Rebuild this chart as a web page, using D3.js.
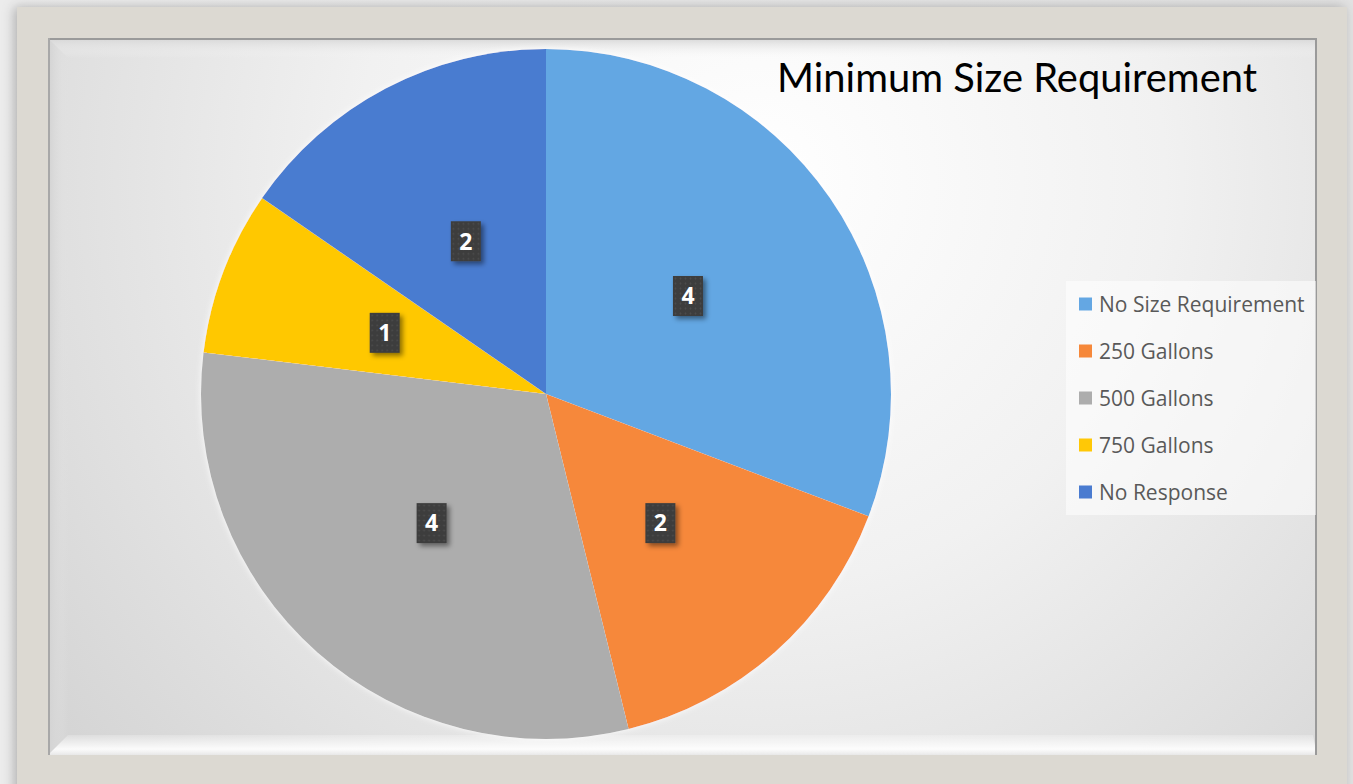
<!DOCTYPE html>
<html>
<head>
<meta charset="utf-8">
<script src="https://d3js.org/d3.v7.min.js"></script>
<style>
  html, body { margin: 0; padding: 0; background: #e4e4e4; overflow: hidden; }
  svg { display: block; }
</style>
</head>
<body>
<svg id="chart" width="1353" height="784"></svg>
<script>
// data
const categories = ["No Size Requirement", "250 Gallons", "500 Gallons", "750 Gallons", "No Response"];
const values = [4, 2, 4, 1, 2];
const colors = ["#64a7e3", "#f6883a", "#adadad", "#ffc806", "#4a7bd0"];
const title = "Minimum Size Requirement";

const svg = d3.select("#chart");
const defs = svg.append("defs");

// panel background gradient
let bg = defs.append("radialGradient").attr("id", "panelBg")
  .attr("gradientUnits", "userSpaceOnUse")
  .attr("cx", 760).attr("cy", 180).attr("r", 900);
bg.append("stop").attr("offset", "0").attr("stop-color", "#ffffff");
bg.append("stop").attr("offset", "0.45").attr("stop-color", "#f1f1f1");
bg.append("stop").attr("offset", "1").attr("stop-color", "#d4d4d4");

let outerBg = defs.append("linearGradient").attr("id", "outerBg")
  .attr("x1", 0).attr("y1", 0).attr("x2", 1).attr("y2", 0);
outerBg.append("stop").attr("offset", "0").attr("stop-color", "#ececec");
outerBg.append("stop").attr("offset", "1").attr("stop-color", "#e2e2e2");

let topBevel = defs.append("linearGradient").attr("id", "topBevel")
  .attr("x1", 0).attr("y1", 0).attr("x2", 0).attr("y2", 1);
topBevel.append("stop").attr("offset", "0").attr("stop-color", "#d6d6d6");
topBevel.append("stop").attr("offset", "1").attr("stop-color", "#f7f7f7").attr("stop-opacity", 0);

let leftBevel = defs.append("linearGradient").attr("id", "leftBevel")
  .attr("x1", 0).attr("y1", 0).attr("x2", 1).attr("y2", 0);
leftBevel.append("stop").attr("offset", "0").attr("stop-color", "#d2d2d2");
leftBevel.append("stop").attr("offset", "1").attr("stop-color", "#e4e4e4").attr("stop-opacity", 0);

let botBevel = defs.append("linearGradient").attr("id", "botBevel")
  .attr("x1", 0).attr("y1", 0).attr("x2", 0).attr("y2", 1);
botBevel.append("stop").attr("offset", "0").attr("stop-color", "#ffffff").attr("stop-opacity", 0.2);
botBevel.append("stop").attr("offset", "0.7").attr("stop-color", "#ffffff").attr("stop-opacity", 0.9);
botBevel.append("stop").attr("offset", "1").attr("stop-color", "#e8e8e8");

// shadow filters
let fs = defs.append("filter").attr("id", "frameShadow")
  .attr("x", "-5%").attr("y", "-5%").attr("width", "110%").attr("height", "110%");
fs.append("feDropShadow").attr("dx", -3).attr("dy", 0).attr("stdDeviation", 6)
  .attr("flood-color", "#000").attr("flood-opacity", 0.25);

let ls = defs.append("filter").attr("id", "labelShadow")
  .attr("x", "-50%").attr("y", "-50%").attr("width", "200%").attr("height", "200%");
ls.append("feDropShadow").attr("dx", 3).attr("dy", 3).attr("stdDeviation", 2.5)
  .attr("flood-color", "#000").attr("flood-opacity", 0.45);

let ps = defs.append("filter").attr("id", "pieGlow")
  .attr("x", "-10%").attr("y", "-10%").attr("width", "120%").attr("height", "120%");
ps.append("feDropShadow").attr("dx", 0).attr("dy", 0).attr("stdDeviation", 3)
  .attr("flood-color", "#ffffff").attr("flood-opacity", 0.9);

// dotted texture for the label boxes
let dots = defs.append("pattern").attr("id", "dots")
  .attr("patternUnits", "userSpaceOnUse").attr("width", 5).attr("height", 5);
dots.append("rect").attr("width", 5).attr("height", 5).attr("fill", "#3d3d3d");
dots.append("circle").attr("cx", 2.5).attr("cy", 2.5).attr("r", 1).attr("fill", "#4c4c4c");

// outer background and frame
svg.append("rect").attr("width", 1353).attr("height", 784).attr("fill", "url(#outerBg)");
svg.append("rect")
  .attr("x", 17).attr("y", 7).attr("width", 1330).attr("height", 800)
  .attr("fill", "#dcd9d2")
  .attr("filter", "url(#frameShadow)");

// inner panel
const px0 = 48, py0 = 38, px1 = 1317, py1 = 755, bev = 20;
svg.append("rect")
  .attr("x", px0).attr("y", py0).attr("width", px1 - px0).attr("height", py1 - py0)
  .attr("fill", "url(#panelBg)");

// bevels
svg.append("polygon")
  .attr("points", [[px0, py0], [px1, py0], [px1 - 4, py0 + bev], [px0 + bev, py0 + bev]].join(" "))
  .attr("fill", "url(#topBevel)");
svg.append("polygon")
  .attr("points", [[px0, py0], [px0 + bev, py0 + bev], [px0 + bev, py1 - bev], [px0, py1]].join(" "))
  .attr("fill", "url(#leftBevel)");
svg.append("polygon")
  .attr("points", [[px0, py1], [px0 + bev, py1 - bev], [px1 - 4, py1 - bev], [px1, py1]].join(" "))
  .attr("fill", "url(#botBevel)");
svg.append("line").attr("x1", px0).attr("y1", py0 + 1).attr("x2", px1).attr("y2", py0 + 1)
  .attr("stroke", "#9a9a9a").attr("stroke-width", 2);
svg.append("line").attr("x1", px0 + 1).attr("y1", py0).attr("x2", px0 + 1).attr("y2", py1)
  .attr("stroke", "#a8a8a8").attr("stroke-width", 2);
svg.append("line").attr("x1", px1 - 1).attr("y1", py0).attr("x2", px1 - 1).attr("y2", py1)
  .attr("stroke", "#9a9a9a").attr("stroke-width", 2);

// pie
const cx = 546, cy = 394, R = 345;
const pie = d3.pie().sort(null).value(d => d);
const arcs = pie(values);
const arc = d3.arc().innerRadius(0).outerRadius(R);
const labelArc = d3.arc().innerRadius(R * 0.5).outerRadius(R * 0.5);

const g = svg.append("g").attr("transform", `translate(${cx},${cy})`);
g.append("g").attr("filter", "url(#pieGlow)")
  .selectAll("path")
  .data(arcs)
  .join("path")
  .attr("d", arc)
  .attr("fill", (d, i) => colors[i]);

// data labels
const lab = g.selectAll("g.lab")
  .data(arcs)
  .join("g")
  .attr("class", "lab")
  .attr("transform", d => `translate(${labelArc.centroid(d)})`);
lab.append("rect")
  .attr("x", -15).attr("y", -20).attr("width", 30).attr("height", 40)
  .attr("fill", "url(#dots)")
  .attr("filter", "url(#labelShadow)");
lab.append("text")
  .attr("text-anchor", "middle")
  .attr("dy", "0.36em")
  .attr("font-family", "'Open Sans', 'DejaVu Sans', sans-serif")
  .attr("font-weight", "bold")
  .attr("font-size", 23)
  .attr("fill", "#ffffff")
  .text(d => d.data);

// title
svg.append("text")
  .attr("x", 777).attr("y", 92)
  .attr("font-family", "Lato, 'DejaVu Sans', sans-serif")
  .attr("font-size", 41)
  .attr("fill", "#000")
  .attr("textLength", 480)
  .attr("lengthAdjust", "spacingAndGlyphs")
  .text(title);

// legend
const lg = svg.append("g");
lg.append("rect")
  .attr("x", 1066).attr("y", 281).attr("width", 250).attr("height", 234)
  .attr("fill", "#ffffff").attr("opacity", 0.55);
const rowY = d3.scalePoint().domain(categories).range([304, 492]);
const item = lg.selectAll("g.item")
  .data(categories)
  .join("g")
  .attr("class", "item")
  .attr("transform", d => `translate(1079,${rowY(d)})`);
item.append("rect")
  .attr("x", 0).attr("y", -6.5).attr("width", 13).attr("height", 13)
  .attr("fill", (d, i) => colors[i]);
item.append("text")
  .attr("x", 20).attr("dy", "0.36em")
  .attr("font-family", "'Open Sans', 'Noto Sans', sans-serif")
  .attr("font-size", 21)
  .attr("fill", "#595959")
  .text(d => d);
</script>
</body>
</html>
